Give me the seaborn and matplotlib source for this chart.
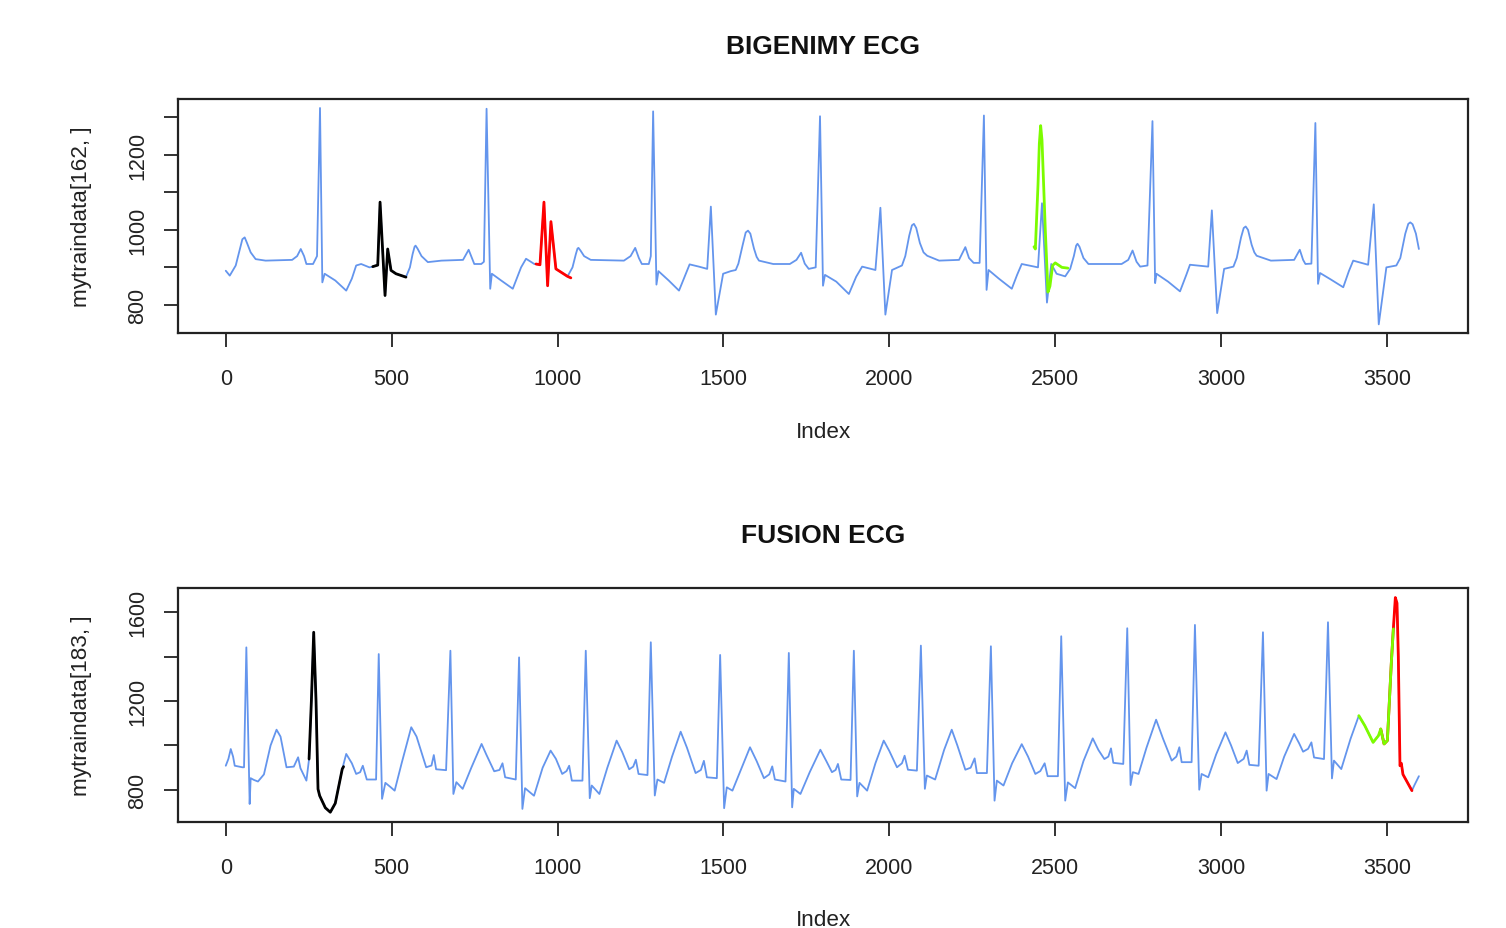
import matplotlib
matplotlib.use("Agg")
import matplotlib.pyplot as plt
import seaborn as sns
import pandas as pd

# ---------------- data ----------------
# BIGENIMY ECG: mytraindata[162, ]  (index, value) vertices of the trace
big_idx = [0, 12, 30, 40, 50, 57, 64, 75, 90, 120, 200, 215, 226, 236, 243, 263, 275, 284, 291, 298, 330, 363, 380,
           393, 408, 433, 443, 458, 465, 480, 488, 498, 513, 543, 555, 563, 569, 572, 578, 590, 609, 650, 715, 732, 742, 749,
           770, 778, 786, 797, 802, 830, 865, 890, 905, 930, 947, 959, 970, 980, 995, 1030, 1045, 1055, 1060, 1063, 1069, 1080, 1100,
           1200, 1220, 1234, 1245, 1254, 1275, 1281, 1288, 1298, 1304, 1335, 1366, 1385, 1398, 1426, 1451, 1462, 1477, 1499, 1522,
           1537, 1545, 1558, 1567, 1574, 1581, 1592, 1600, 1607, 1650, 1700, 1720, 1734, 1745, 1757, 1778, 1791, 1800, 1806, 1840, 1878, 1900, 1918, 1958,
           1973, 1988, 2008, 2038, 2048, 2060, 2068, 2074, 2081, 2092, 2103, 2114, 2150, 2210, 2229, 2240, 2254, 2272, 2285, 2293, 2299, 2330, 2369, 2385,
           2399, 2448, 2460, 2475, 2488, 2504, 2530, 2545, 2556, 2563, 2567, 2573, 2585, 2600, 2700, 2720, 2733, 2745, 2756, 2778, 2793, 2801, 2805,
           2840, 2876, 2895, 2906, 2961, 2972, 2988, 3009, 3037, 3047, 3060, 3068, 3074, 3081, 3092, 3100, 3107, 3150, 3220, 3237, 3247, 3254, 3272, 3284,
           3292, 3298, 3330, 3368, 3385, 3398, 3443, 3460, 3475, 3498, 3528, 3540, 3555, 3564, 3570, 3577, 3587, 3596]
big_val = [891, 878, 905, 940, 975, 980, 965, 940, 922, 918, 920, 930, 949, 930, 909, 909, 930, 1325, 860, 883, 865, 838, 870,
           905, 909, 900, 902, 906, 1074, 825, 949, 892, 883, 874, 900, 935, 955, 958, 950, 930, 914, 918, 920, 947, 925, 909,
           909, 915, 1323, 843, 883, 865, 843, 900, 923, 909, 907, 1074, 851, 1022, 896, 876, 900, 935, 950, 952, 945, 930, 920,
           918, 930, 952, 925, 909, 909, 930, 1316, 854, 890, 865, 838, 880, 908, 902, 896, 1062, 774, 883, 890,
           893, 910, 960, 993, 998, 990, 950, 928, 918, 909, 909, 920, 939, 910, 896, 900, 1303, 851, 880, 862, 829, 875, 902, 893,
           1059, 774, 893, 905, 930, 985, 1012, 1016, 1005, 965, 940, 931, 918, 920, 954, 925, 912, 912, 1305, 840, 893, 870, 843, 880,
           909, 900, 1071, 806, 909, 883, 876, 896, 930, 958, 963, 955, 925, 909, 909, 920, 945, 915, 902, 905, 1290, 858, 883,
           862, 836, 880, 907, 902, 1052, 778, 896, 902, 925, 980, 1005, 1009, 1000, 960, 940, 931, 918, 920, 947, 920, 909, 910, 1285,
           856, 885, 868, 847, 890, 918, 907, 1068, 748, 900, 905, 925, 990, 1016, 1020, 1015, 990, 949]

big_black_idx = [443, 458, 465, 480, 488, 498, 513, 543]
big_black_val = [902, 906, 1074, 825, 949, 892, 883, 874]
big_red_idx = [935, 947, 959, 970, 980, 995, 1030, 1040]
big_red_val = [909, 907, 1074, 851, 1022, 896, 876, 872]
big_green_idx = [2436, 2440, 2448, 2452, 2456, 2460, 2470, 2478, 2484, 2492, 2500, 2520, 2538]
big_green_val = [955, 949, 1120, 1230, 1278, 1240, 1000, 834, 850, 905, 912, 900, 898]

# FUSION ECG: mytraindata[183, ]
fus_idx = [0, 8, 15, 22, 27, 50, 55, 62, 72, 75, 85, 97, 115, 135, 153, 165, 183, 205, 218, 225,
           243, 251, 258, 265, 272, 278, 283, 300, 315, 330, 351, 363, 380, 393, 405, 413, 425, 453, 461, 471,
           481, 495, 509, 530, 559, 575, 604, 620, 627, 634, 664, 677, 686, 695, 714, 740, 771, 785, 809, 825,
           834, 842, 874, 884, 894, 902, 929, 955, 979, 995, 1014, 1027, 1035, 1043, 1075, 1085, 1097, 1103, 1126, 1150,
           1178, 1195, 1216, 1228, 1236, 1244, 1271, 1281, 1293, 1301, 1321, 1345, 1371, 1390, 1416, 1432, 1441, 1450, 1480, 1490,
           1502, 1510, 1527, 1555, 1580, 1600, 1622, 1638, 1647, 1655, 1687, 1697, 1707, 1712, 1732, 1760, 1792, 1810, 1827, 1838,
           1845, 1855, 1883, 1893, 1903, 1910, 1933, 1958, 1983, 2000, 2023, 2038, 2046, 2056, 2083, 2095, 2107, 2113, 2138, 2165,
           2188, 2205, 2229, 2245, 2257, 2264, 2294, 2306, 2317, 2324, 2344, 2370, 2399, 2418, 2440, 2455, 2468, 2477, 2508, 2518,
           2530, 2538, 2560, 2585, 2613, 2630, 2648, 2660, 2668, 2675, 2705, 2717, 2727, 2734, 2751, 2775, 2804, 2825, 2851, 2865,
           2874, 2881, 2911, 2921, 2934, 2941, 2961, 2985, 3013, 3030, 3050, 3068, 3077, 3085, 3113, 3126, 3137, 3143, 3167, 3190,
           3220, 3235, 3247, 3262, 3272, 3280, 3310, 3322, 3334, 3340, 3362, 3390, 3415, 3433, 3458, 3474, 3481, 3491, 3501, 3513,
           3519, 3525, 3530, 3534, 3539, 3543, 3548, 3575, 3582, 3596]
fus_val = [909, 940, 984, 950, 909, 902, 902, 1441, 737, 853, 845, 838, 870, 1000, 1071, 1040, 902, 905, 947, 898,
           842, 939, 1200, 1509, 1200, 804, 774, 720, 700, 740, 894, 962, 920, 872, 880, 909, 847, 847, 1411, 760,
           832, 815, 797, 920, 1082, 1040, 902, 910, 957, 893, 889, 1426, 782, 835, 805, 900, 1007, 960, 884, 890,
           920, 857, 847, 1396, 715, 808, 774, 900, 977, 940, 872, 885, 909, 842, 842, 1426, 763, 820, 782, 900,
           1022, 970, 893, 905, 936, 872, 867, 1464, 775, 847, 832, 950, 1062, 990, 876, 890, 931, 857, 853, 1407,
           718, 812, 797, 900, 992, 930, 853, 870, 906, 847, 838, 1416, 722, 805, 782, 880, 981, 930, 880, 890,
           917, 847, 845, 1426, 771, 832, 797, 920, 1022, 975, 902, 920, 954, 891, 887, 1449, 805, 865, 847, 980,
           1071, 1000, 891, 900, 942, 876, 876, 1446, 752, 842, 820, 920, 1006, 950, 872, 885, 920, 862, 862, 1491,
           752, 834, 808, 930, 1032, 980, 939, 950, 987, 922, 917, 1527, 822, 880, 872, 990, 1116, 1030, 932, 950,
           992, 925, 925, 1542, 801, 872, 857, 960, 1059, 1000, 921, 940, 977, 913, 909, 1509, 797, 872, 849, 950,
           1052, 1010, 972, 985, 1014, 946, 939, 1554, 852, 932, 894, 1030, 1134, 1089, 1014, 1044, 1074, 1007, 1022, 1374,
           1524, 1665, 1640, 1400, 909, 920, 870, 797, 820, 862]

fus_black_idx = [251, 258, 265, 272, 278, 283, 300, 315, 330, 351, 355]
fus_black_val = [939, 1200, 1509, 1200, 804, 774, 720, 700, 740, 894, 905]
fus_red_idx = [3481, 3491, 3501, 3513, 3519, 3525, 3530, 3534, 3539, 3543, 3548, 3575]
fus_red_val = [1074, 1007, 1022, 1374, 1524, 1665, 1640, 1400, 909, 920, 870, 797]
fus_green_idx = [3415, 3433, 3458, 3474, 3481, 3491, 3501, 3513, 3519]
fus_green_val = [1134, 1089, 1014, 1044, 1074, 1007, 1022, 1374, 1524]

x_ticks = [0, 500, 1000, 1500, 2000, 2500, 3000, 3500]
big_yticks = [800, 900, 1000, 1100, 1200, 1300]
big_ylabels = ["800", "", "1000", "", "1200", ""]
fus_yticks = [800, 1000, 1200, 1400, 1600]
fus_ylabels = ["800", "", "1200", "", "1600"]

BLUE = "#6495ED"
GREEN = "#7CFC00"
RED = "#FF0000"

# ---------------- figure ----------------
sns.set_theme(style="white")
plt.rcParams['font.family'] = ['Liberation Sans', 'DejaVu Sans']

W, H = 1506, 929
fig = plt.figure(figsize=(W / 100, H / 100), dpi=100)
ax1 = fig.add_axes([178 / W, 1 - 334 / H, 1290 / W, 234 / H])
ax2 = fig.add_axes([178 / W, 1 - 823 / H, 1290 / W, 234 / H])


def draw(ax, idx, val, overlays, title, ylab, ylim, yticks, ylabels):
    sns.lineplot(data=pd.DataFrame({"x": idx, "y": val}), x="x", y="y", ax=ax,
                 color=BLUE, linewidth=1.3, estimator=None, sort=False)
    for oi, ov, col in overlays:
        sns.lineplot(data=pd.DataFrame({"x": oi, "y": ov}), x="x", y="y", ax=ax,
                     color=col, linewidth=2.0, estimator=None, sort=False)
    ax.set_xlim(-144, 3744)
    ax.set_ylim(*ylim)
    ax.set_xticks(x_ticks)
    ax.set_xticklabels([str(t) for t in x_ticks])
    ax.set_yticks(yticks)
    ax.set_yticklabels(ylabels, rotation=90, va="center")
    ax.tick_params(axis="both", direction="out", length=10, width=1.3, colors="#222222",
                   labelsize=15.5, labelcolor="#222222", bottom=True, left=True,
                   top=False, right=False)
    ax.tick_params(axis="x", pad=15.5)
    ax.tick_params(axis="y", pad=11.5)
    for s in ax.spines.values():
        s.set_color("#222222")
        s.set_linewidth(1.6)
        s.set_visible(True)
    ax.set_title(title, fontsize=19, fontweight="bold", pad=33, color="#111111")
    ax.set_xlabel("Index", fontsize=16.2, color="#222222")
    ax.xaxis.label.set_va("center")
    ax.xaxis.set_label_coords(0.5, -(432 - 334) / 234)
    ax.set_ylabel(ylab, fontsize=16.2, color="#222222")
    ax.yaxis.label.set_va("center")
    ax.yaxis.set_label_coords(-(178 - 82) / 1290, 0.5)
    ax.grid(False)
    ax.set_facecolor("white")


draw(ax1, big_idx, big_val,
     [(big_black_idx, big_black_val, "black"), (big_red_idx, big_red_val, RED),
      (big_green_idx, big_green_val, GREEN)],
     "BIGENIMY ECG", "mytraindata[162, ]", (725, 1349), big_yticks, big_ylabels)
draw(ax2, fus_idx, fus_val,
     [(fus_black_idx, fus_black_val, "black"), (fus_red_idx, fus_red_val, RED),
      (fus_green_idx, fus_green_val, GREEN)],
     "FUSION ECG", "mytraindata[183, ]", (656, 1708), fus_yticks, fus_ylabels)

fig.savefig("out.png", dpi=100, facecolor="white")
